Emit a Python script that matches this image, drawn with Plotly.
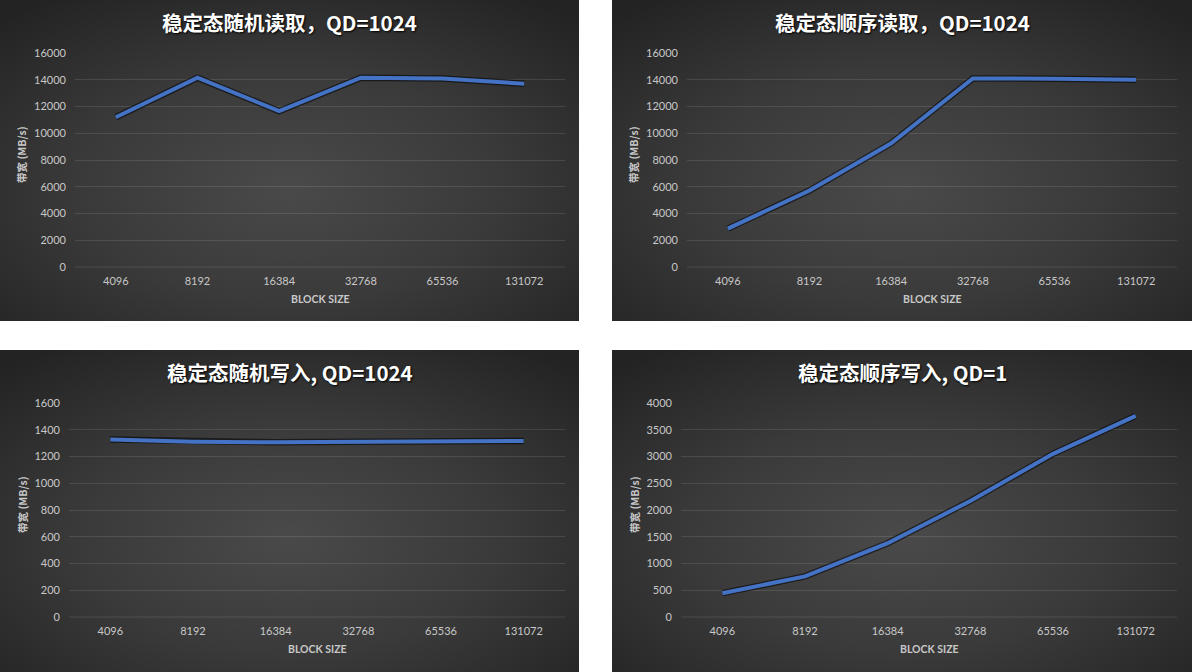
import base64
import plotly.graph_objects as go

# ---------------- data ----------------
block_sizes = ["4096", "8192", "16384", "32768", "65536", "131072"]

rand_read_qd1024 = [11200, 14150, 11650, 14150, 14100, 13700]
seq_read_qd1024 = [2870, 5720, 9250, 14100, 14080, 14000]
rand_write_qd1024 = [1328, 1311, 1306, 1310, 1311, 1316]
seq_write_qd1 = [445, 760, 1380, 2170, 3050, 3760]

titles = ["稳定态随机读取，QD=1024", "稳定态顺序读取，QD=1024",
          "稳定态随机写入, QD=1024", "稳定态顺序写入, QD=1"]
y_title = "带宽 (MB/s)"
x_title = "BLOCK SIZE"

series = [rand_read_qd1024, seq_read_qd1024, rand_write_qd1024, seq_write_qd1]
y_ranges = [(0, 16000, 2000), (0, 16000, 2000), (0, 1600, 200), (0, 4000, 500)]

# ---------------- layout geometry (pixels) ----------------
W, H = 1192, 672
panels = [(0, 579, 0, 321), (612, 1192, 0, 321), (0, 579, 350, 672), (612, 1192, 350, 672)]
plots = [(75, 565, 53, 267), (687, 1177, 53, 267), (69, 565, 403, 617), (681, 1177, 403, 617)]

FONT = "Lato, 'Noto Sans CJK SC', sans-serif"
CJK = "'Noto Sans CJK SC', Lato, sans-serif"
TICK_COLOR = "#c8c8c8"
GRID_COLOR = "rgba(255,255,255,0.11)"
LINE_COLOR = "#4472C4"

svg = ('<svg xmlns="http://www.w3.org/2000/svg" width="580" height="322" viewBox="0 0 580 322" '
       'preserveAspectRatio="none"><defs><radialGradient id="g" cx="50%" cy="58%" r="72%">'
       '<stop offset="0" stop-color="#4a4a4a"/><stop offset="0.5" stop-color="#3a3a3a"/>'
       '<stop offset="1" stop-color="#232323"/></radialGradient></defs>'
       '<rect width="580" height="322" fill="url(#g)"/></svg>')
bg_src = "data:image/svg+xml;base64," + base64.b64encode(svg.encode()).decode()


def px(x):
    return x / W


def py(y):
    return 1 - y / H


fig = go.Figure()
images, annotations, shapes = [], [], []
layout_axes = {}

for i in range(4):
    n = "" if i == 0 else str(i + 1)
    xa, ya = "x" + n, "y" + n
    vals = series[i]
    fig.add_trace(go.Scatter(x=block_sizes, y=vals, xaxis=xa, yaxis=ya, mode="lines",
                             line=dict(color="rgba(0,0,0,0.55)", width=6.5),
                             hoverinfo="skip", showlegend=False))
    fig.add_trace(go.Scatter(x=block_sizes, y=vals, xaxis=xa, yaxis=ya, mode="lines",
                             line=dict(color=LINE_COLOR, width=4),
                             showlegend=False))

    l, r, t, b = plots[i]
    lo, hi, dt = y_ranges[i]
    layout_axes["xaxis" + n] = dict(
        domain=[px(l), px(r)], anchor=ya, type="category", range=[-0.5, 5.5],
        showgrid=False, zeroline=False, showline=False, ticks="", automargin=False,
        tickfont=dict(family=FONT, size=11, color=TICK_COLOR), ticklabelstandoff=6,
    )
    layout_axes["yaxis" + n] = dict(
        domain=[py(b), py(t)], anchor=xa, range=[lo, hi], dtick=dt, tick0=0,
        tickformat="d", automargin=False,
        showgrid=True, gridcolor=GRID_COLOR, gridwidth=1, zeroline=False, showline=False,
        ticks="", tickfont=dict(family=FONT, size=11, color=TICK_COLOR), ticklabelstandoff=8,
    )
    shapes.append(dict(type="line", xref="paper", yref="paper", x0=px(l), x1=px(r),
                       y0=py(b), y1=py(b), line=dict(color=GRID_COLOR, width=1), layer="below"))

    x0, x1, y0, y1 = panels[i]
    images.append(dict(source=bg_src, xref="paper", yref="paper", x=px(x0), y=py(y0),
                       sizex=px(x1) - px(x0), sizey=py(y0) - py(y1), sizing="stretch",
                       layer="below", xanchor="left", yanchor="top"))

    annotations.append(dict(text="<b>" + titles[i] + "</b>", xref="paper", yref="paper",
                            x=px((x0 + x1) / 2), y=py(y0 + 22), showarrow=False,
                            xanchor="center", yanchor="middle",
                            font=dict(family=CJK, size=20.5, color="#ffffff",
                                      shadow="1px 1px 2px #000000")))
    annotations.append(dict(text="<b>" + x_title + "</b>", xref="paper", yref="paper",
                            x=px((l + r) / 2), y=py(b + 32), showarrow=False,
                            xanchor="center", yanchor="middle",
                            font=dict(family=FONT, size=10.5, color=TICK_COLOR)))
    annotations.append(dict(text="<b>" + y_title + "</b>", xref="paper", yref="paper",
                            x=px(x0 + 22), y=py((t + b) / 2 - 5), showarrow=False,
                            textangle=-90, xanchor="center", yanchor="middle",
                            font=dict(family=CJK, size=10.5, color=TICK_COLOR)))

fig.update_layout(
    width=W, height=H,
    margin=dict(l=0, r=0, t=0, b=0, pad=0, autoexpand=False),
    paper_bgcolor="#ffffff", plot_bgcolor="rgba(0,0,0,0)",
    images=images, annotations=annotations, shapes=shapes,
    **layout_axes,
)

post = ("document.body.style.margin='0';"
        "var d=document.getElementById('{plot_id}');"
        "d.style.position='absolute';d.style.left='0px';d.style.top='0px';")
fig.write_html("out.html", post_script=post, config={"displayModeBar": False})
